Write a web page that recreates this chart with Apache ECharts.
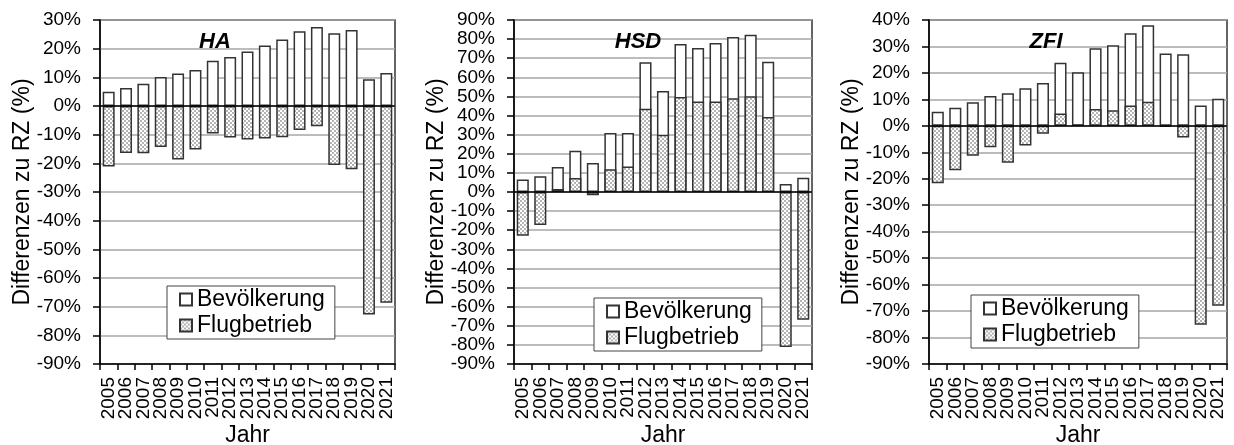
<!DOCTYPE html>
<html>
<head>
<meta charset="utf-8">
<script src="https://cdn.jsdelivr.net/npm/echarts@6/dist/echarts.min.js"></script>
<style>
html,body{margin:0;padding:0;background:#fff;}
#c{width:1234px;height:445px;}
</style>
</head>
<body>
<div id="c"></div>
<script>
// ---- data ----
const years = ['2005','2006','2007','2008','2009','2010','2011','2012','2013','2014','2015','2016','2017','2018','2019','2020','2021'];
const panelTitles = ['HA','HSD','ZFI'];
const seriesNames = ['Bevölkerung','Flugbetrieb'];

const haBev   = [5.0, 6.3, 7.8, 10.1, 11.3, 12.6, 15.8, 17.1, 19.0, 21.1, 23.2, 26.1, 27.6, 25.4, 26.5, 9.3, 11.5];
const haFlug  = [-21.1, -16.4, -16.5, -14.3, -18.7, -15.2, -9.6, -11.0, -11.7, -11.3, -10.9, -8.4, -7.1, -20.6, -22.1, -72.7, -68.6];

const hsdBev  = [6.5, 8.2, 13.1, 21.6, 15.2, 30.9, 30.9, 67.9, 52.9, 77.4, 75.4, 78.0, 81.1, 82.3, 68.2, 4.2, 7.5];
const hsdFlug = [-22.9, -17.3, 1.6, 7.3, -1.7, 11.9, 13.4, 43.6, 30.0, 49.7, 47.3, 47.4, 49.0, 50.1, 39.2, -81.1, -66.8];

const zfiBev  = [5.3, 6.8, 8.9, 11.3, 12.3, 14.2, 16.2, 23.8, 20.3, 29.3, 30.5, 35.0, 38.0, 27.3, 27.1, 7.7, 10.2];
const zfiFlug = [-21.7, -16.8, -11.3, -8.1, -13.9, -7.4, -3.0, 4.7, 0.4, 6.4, 5.9, 7.7, 9.1, -0.3, -4.4, -75.2, -68.0];

const yMin = [-90, -90, -90];
const yMax = [30, 90, 40];
const yInterval = 10;

const bevData = [haBev, hsdBev, zfiBev];
const flugData = [haFlug, hsdFlug, zfiFlug];

// ---- layout ----
const grids = [
  {left: 100, top: 20, width: 295, height: 344},
  {left: 514, top: 20, width: 298, height: 344},
  {left: 929, top: 20, width: 298, height: 344}
];
const titlePos = [215, 638, 1046];
const legendPos = [[167, 286], [594, 298], [971, 295]];

const FONT = '"Liberation Sans", Arial, sans-serif';

// hatch pattern
const pat = document.createElement('canvas');
pat.width = 4; pat.height = 4;
const pc = pat.getContext('2d');
pc.fillStyle = '#ffffff'; pc.fillRect(0,0,4,4);
pc.fillStyle = '#b4b4b4'; pc.fillRect(0,0,2,2); pc.fillRect(2,2,2,2);
const hatch = {image: pat, repeat: 'repeat'};

const option = {
  animation: false,
  backgroundColor: '#fff',
  textStyle: {fontFamily: FONT, color: '#000'},
  title: panelTitles.map((t, i) => ({
    text: t, left: titlePos[i], top: 31, textAlign: 'center', padding: 0,
    textStyle: {fontFamily: FONT, fontSize: 22, fontWeight: 'bold', fontStyle: 'italic', color: '#000'}
  })),
  legend: legendPos.map((p, i) => ({
    left: p[0], top: p[1], orient: 'vertical',
    data: seriesNames.map(n => ({name: n, icon: 'rect'})),
    itemWidth: 12, itemHeight: 12, itemGap: 3,
    padding: [2, 10, 2, 12],
    borderColor: '#444', borderWidth: 1, backgroundColor: '#fff',
    selectedMode: false,
    textStyle: {fontFamily: FONT, fontSize: 23, color: '#000'}
  })),
  grid: grids.map(g => Object.assign({show: true, borderColor: '#333', borderWidth: 1.5, backgroundColor: 'transparent', containLabel: false, outerBoundsMode: 'none'}, g)),
  xAxis: grids.map((g, i) => ({
    type: 'category', gridIndex: i, data: years, boundaryGap: true,
    name: 'Jahr', nameLocation: 'middle', nameGap: 60, nameMoveOverlap: false,
    nameTextStyle: {fontFamily: FONT, fontSize: 23, color: '#000'},
    axisLine: {onZero: false, lineStyle: {color: '#000', width: 1.5}},
    axisTick: {show: true, length: 6, inside: false, lineStyle: {color: '#000', width: 1.5}},
    axisLabel: {rotate: 90, margin: 13, fontFamily: FONT, fontSize: 19, color: '#000', interval: 0},
    splitLine: {show: false}
  })),
  yAxis: grids.map((g, i) => ({
    type: 'value', gridIndex: i, min: yMin[i], max: yMax[i], interval: yInterval,
    name: 'Differenzen zu RZ (%)', nameLocation: 'middle', nameGap: 66, nameRotate: 90, nameMoveOverlap: false,
    nameTextStyle: {fontFamily: FONT, fontSize: 23, color: '#000'},
    axisLine: {show: true, lineStyle: {color: '#000', width: 1.5}},
    axisTick: {show: true, length: 7, lineStyle: {color: '#000', width: 1.5}},
    axisLabel: {formatter: '{value}%', margin: 19, fontFamily: FONT, fontSize: 19, color: '#000',
                showMinLabel: true, showMaxLabel: true, hideOverlap: false},
    splitLine: {show: true, lineStyle: {color: '#a6a6a6', width: 1.5}}
  })),
  series: []
};

for (let i = 0; i < 3; i++) {
  option.series.push({
    name: seriesNames[0], type: 'bar', xAxisIndex: i, yAxisIndex: i,
    data: bevData[i], barWidth: '69%', barGap: '-100%',
    itemStyle: {color: '#ffffff', borderColor: '#333', borderWidth: 1.5},
    z: 2
  });
  option.series.push({
    name: seriesNames[1], type: 'bar', xAxisIndex: i, yAxisIndex: i,
    data: flugData[i], barWidth: '69%', barGap: '-100%',
    itemStyle: {color: hatch, borderColor: '#333', borderWidth: 1.5},
    z: 3,
    markLine: {
      silent: true, symbol: 'none', label: {show: false},
      lineStyle: {color: '#000', width: 1.5, type: 'solid'},
      data: [{yAxis: 0}]
    }
  });
}

const chart = echarts.init(document.getElementById('c'), null, {renderer: 'canvas'});
chart.setOption(option);
</script>
</body>
</html>
